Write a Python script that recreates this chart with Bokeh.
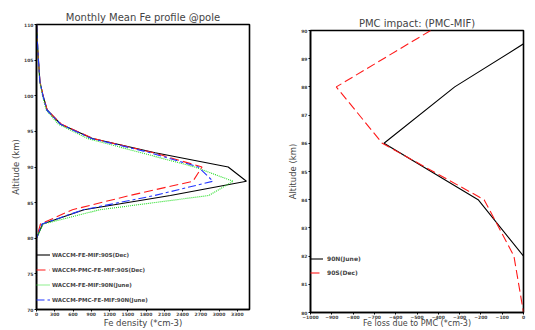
from bokeh.plotting import figure
from bokeh.models import Range1d, FixedTicker, Legend, LegendItem
from bokeh.layouts import row
from bokeh.embed import file_html
from bokeh.resources import INLINE

# ---------------- data (left panel) ----------------
alt_left = [110, 108, 106, 104, 102, 100, 98, 96, 94, 92, 90, 88, 86, 84, 82, 80, 78, 76, 74, 72, 70]
fe_mif_90s_dec = [3, 12, 25, 40, 56, 108, 175, 400, 920, 1950, 3150, 3450, 2200, 780, 100, 0, 0, 0, 0, 0, 0]
fe_pmc_90s_dec = [3, 12, 25, 40, 56, 108, 175, 410, 930, 1920, 2720, 2570, 1530, 590, 65, 0, 0, 0, 0, 0, 0]
fe_mif_90n_jun = [3, 12, 24, 38, 52, 100, 160, 360, 840, 1720, 2600, 3230, 2830, 1040, 110, 0, 0, 0, 0, 0, 0]
fe_pmc_90n_jun = [3, 12, 25, 40, 55, 106, 170, 395, 900, 1870, 2660, 2900, 1940, 770, 90, 0, 0, 0, 0, 0, 0]
left_names = ["WACCM-FE-MIF:90S(Dec)", "WACCM-PMC-FE-MIF:90S(Dec)",
              "WACCM-FE-MIF:90N(June)", "WACCM-PMC-FE-MIF:90N(June)"]
left_xticks = [0, 300, 600, 900, 1200, 1500, 1800, 2100, 2400, 2700, 3000, 3300]
left_yticks = [70, 75, 80, 85, 90, 95, 100, 105, 110]

# ---------------- data (right panel) ----------------
alt_right = [90, 88, 86, 84, 82, 80]
loss_90n_jun = [100, -323, -655, -213, 0, 0]
loss_90s_dec = [-436, -879, -663, -185, -45, 0]
right_names = ["90N(June)", "90S(Dec)"]
right_xticks = [-1000, -900, -800, -700, -600, -500, -400, -300, -200, -100, 0]
right_yticks = [80, 81, 82, 83, 84, 85, 86, 87, 88, 89, 90]

FONT = "DejaVu Sans"
BLACK, RED, GREEN, BLUE = "#000000", "#ff1a1a", "#22dd22", "#2236ff"


def style(p, title):
    p.frame_align = False
    p.title.text = title
    p.title.text_font = FONT
    p.title.text_font_size = "10px"
    p.title.text_font_style = "normal"
    p.title.align = "center"
    p.title.standoff = 4
    p.outline_line_color = "black"
    p.outline_line_width = 1.6
    p.xgrid.visible = False
    p.ygrid.visible = False
    p.background_fill_color = "white"
    p.border_fill_color = "white"
    for ax in p.axis:
        ax.axis_line_color = "black"
        ax.axis_line_width = 1.5
        ax.major_tick_out = 2
        ax.major_tick_in = 0
        ax.minor_tick_out = 0
        ax.minor_tick_in = 0
        ax.major_tick_line_width = 1
        ax.major_label_text_font = FONT
        ax.major_label_text_font_size = "4.5px"
        ax.major_label_text_font_style = "bold"
        ax.axis_label_text_font = FONT
        ax.axis_label_text_font_size = "8.5px"
        ax.axis_label_text_font_style = "normal"


# ---------------- left figure ----------------
p1 = figure(width=270, height=330, output_backend="svg", toolbar_location=None,
            x_range=Range1d(0, 3500), y_range=Range1d(70, 110),
            min_border_left=36, min_border_right=21, min_border_top=24, min_border_bottom=21)
style(p1, "Monthly Mean Fe profile @pole")
p1.xaxis.ticker = FixedTicker(ticks=left_xticks, minor_ticks=[])
p1.yaxis.ticker = FixedTicker(ticks=left_yticks, minor_ticks=[])
p1.xaxis.major_label_standoff = 0
p1.yaxis.major_label_standoff = 1
p1.yaxis.axis_label = "Altitude (km)"
p1.yaxis.axis_label_standoff = 0
p1.xaxis.axis_label = "Fe density (*cm-3)"
p1.xaxis.axis_label_standoff = -1
p1.xaxis.axis_label_text_font_size = "8.5px"

r1 = p1.line(fe_mif_90s_dec, alt_left, line_color=BLACK, line_width=1.1)
r2 = p1.line(fe_pmc_90s_dec, alt_left, line_color=RED, line_width=1.1, line_dash="9 4")
r3 = p1.line(fe_mif_90n_jun, alt_left, line_color=GREEN, line_width=1.1, line_dash="1 1")
r4 = p1.line(fe_pmc_90n_jun, alt_left, line_color=BLUE, line_width=1.1, line_dash="8 3 3 3")

leg1 = Legend(items=[LegendItem(label=n, renderers=[r]) for n, r in zip(left_names, [r1, r2, r3, r4])],
              location=(0, 6), orientation="vertical", glyph_width=14, glyph_height=7,
              label_height=7, label_standoff=2, spacing=8, padding=0, margin=0,
              background_fill_alpha=0, border_line_color=None,
              label_text_font=FONT, label_text_font_size="5.5px", label_text_font_style="bold")
p1.add_layout(leg1)

# ---------------- right figure ----------------
p2 = figure(width=265, height=330, output_backend="svg", toolbar_location=None,
            x_range=Range1d(-1000, 0), y_range=Range1d(80, 90),
            min_border_left=40, min_border_right=12, min_border_top=30, min_border_bottom=17)
style(p2, "PMC impact: (PMC-MIF)")
p2.xaxis.ticker = FixedTicker(ticks=right_xticks, minor_ticks=[])
p2.yaxis.ticker = FixedTicker(ticks=right_yticks, minor_ticks=[])
p2.xaxis.major_label_standoff = 0
p2.yaxis.major_label_standoff = 1
p2.yaxis.axis_label = "Altitude (km)"
p2.yaxis.axis_label_standoff = 0
p2.xaxis.axis_label = "Fe loss due to PMC (*cm-3)"
p2.xaxis.axis_label_standoff = -3
p2.xaxis.axis_label_text_font_size = "8px"

q1 = p2.line(loss_90n_jun, alt_right, line_color=BLACK, line_width=1.1)
q2 = p2.line(loss_90s_dec, alt_right, line_color=RED, line_width=1.1, line_dash="9 4")

leg2 = Legend(items=[LegendItem(label=n, renderers=[r]) for n, r in zip(right_names, [q1, q2])],
              location=(0, 36), orientation="vertical", glyph_width=13, glyph_height=7,
              label_height=7, label_standoff=4, spacing=7, padding=0, margin=0,
              background_fill_alpha=0, border_line_color=None,
              label_text_font=FONT, label_text_font_size="6px", label_text_font_style="bold")
p2.add_layout(leg2)

layout = row(p1, p2)
open("out.html", "w").write(file_html(layout, INLINE))
